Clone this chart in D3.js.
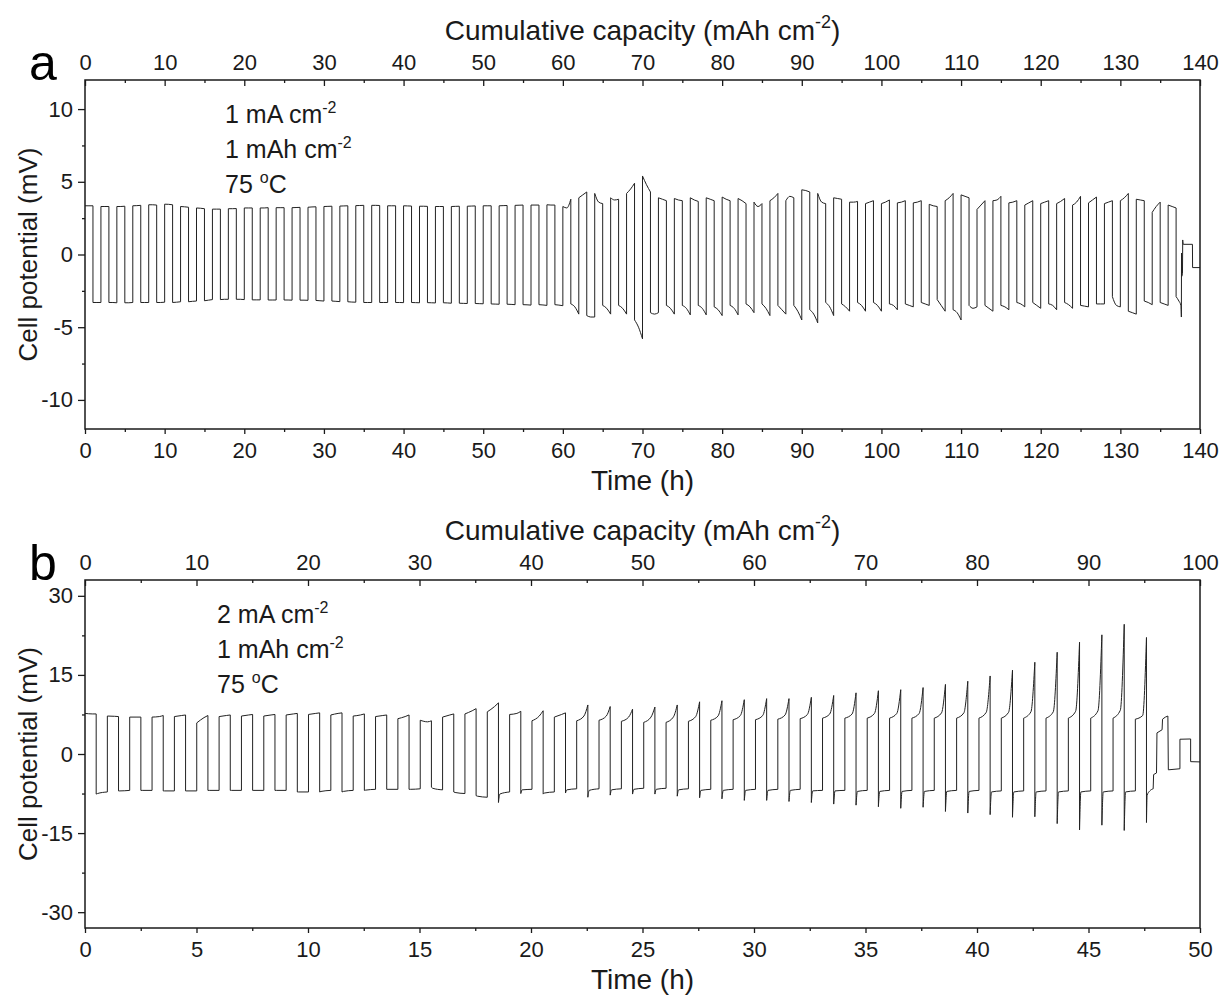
<!DOCTYPE html>
<html>
<head>
<meta charset="utf-8">
<script src="https://cdn.jsdelivr.net/npm/d3@7"></script>
<style>
  body { margin: 0; background: #fff; }
  svg { font-family: "Liberation Sans", Arial, sans-serif; }
</style>
</head>
<body>
<svg id="chart" width="1223" height="996"></svg>
<script>
// ---------- panel a: 1 mA cm-2, 1 mAh cm-2 (one cycle = 2 h, +1 h / -1 h) ----------
// per-cycle potentials (mV): start, middle and end of each half cycle
const aPosStart = [3.35,3.30,3.30,3.35,3.42,3.46,3.30,3.20,3.12,3.15,3.20,3.20,3.22,3.22,3.25,3.30,3.33,3.36,3.38,3.35,
  3.35,3.32,3.30,3.30,3.32,3.35,3.35,3.38,3.40,3.42,3.30,3.90,4.20,3.90,4.20,5.40,3.90,3.85,3.90,3.90,
  3.95,3.85,3.60,3.70,3.70,4.45,4.20,3.90,3.60,3.50,3.50,3.55,3.55,3.45,3.70,4.10,3.10,3.70,3.55,3.40,
  3.50,3.50,3.40,3.55,3.50,3.70,3.80,2.90];
const aPosMid = [3.35,3.30,3.30,3.36,3.42,3.45,3.28,3.18,3.12,3.15,3.20,3.20,3.22,3.23,3.27,3.31,3.34,3.37,3.38,3.35,
  3.34,3.32,3.30,3.31,3.33,3.35,3.36,3.39,3.40,3.40,3.20,4.10,3.60,3.75,4.50,4.80,3.80,3.75,3.75,3.80,
  3.80,3.70,3.30,3.90,4.00,4.40,3.60,3.85,3.60,3.60,3.60,3.60,3.60,3.35,3.90,4.00,3.40,3.75,3.60,3.55,
  3.60,3.65,3.60,3.75,3.60,3.90,3.75,3.30];
const aPosEnd = [3.35,3.30,3.32,3.38,3.40,3.42,3.25,3.15,3.12,3.16,3.20,3.22,3.22,3.24,3.28,3.32,3.35,3.38,3.37,3.35,
  3.33,3.31,3.30,3.32,3.34,3.35,3.37,3.40,3.40,3.40,3.80,4.30,3.50,3.80,4.90,4.30,3.70,3.70,3.65,3.70,
  3.70,3.50,3.50,4.20,3.90,4.30,3.50,3.80,3.65,3.70,3.75,3.70,3.70,3.30,4.20,3.90,3.70,4.00,3.70,3.70,
  3.70,3.85,4.00,3.95,3.70,4.20,3.70,3.60];
const aNegStart = [-3.30,-3.30,-3.32,-3.30,-3.30,-3.30,-3.25,-3.18,-3.10,-3.08,-3.12,-3.13,-3.13,-3.14,-3.16,-3.20,-3.25,-3.30,-3.30,-3.30,
  -3.30,-3.31,-3.32,-3.35,-3.37,-3.40,-3.42,-3.45,-3.45,-3.45,-3.40,-4.20,-3.50,-3.50,-4.50,-4.00,-3.50,-3.50,-3.50,-3.60,
  -3.50,-3.40,-3.40,-3.50,-3.50,-3.80,-3.30,-3.40,-3.30,-3.30,-3.40,-3.40,-3.30,-3.10,-3.80,-3.50,-3.50,-3.50,-3.30,-3.30,
  -3.40,-3.30,-3.50,-3.40,-2.90,-3.90,-3.20,-3.30];
const aNegMid = [-3.30,-3.30,-3.32,-3.30,-3.30,-3.28,-3.22,-3.14,-3.08,-3.08,-3.12,-3.13,-3.13,-3.14,-3.18,-3.22,-3.27,-3.30,-3.30,-3.30,
  -3.31,-3.32,-3.33,-3.36,-3.38,-3.41,-3.43,-3.46,-3.47,-3.48,-3.60,-4.30,-3.70,-3.70,-5.00,-4.10,-3.70,-3.70,-3.70,-3.80,
  -3.70,-3.60,-3.70,-3.80,-3.90,-4.10,-3.60,-3.60,-3.50,-3.50,-3.50,-3.50,-3.40,-3.50,-4.00,-3.70,-3.70,-3.60,-3.40,-3.50,
  -3.50,-3.45,-3.55,-3.40,-3.50,-4.00,-3.30,-3.40];
const aNegEnd = [-3.30,-3.32,-3.30,-3.30,-3.28,-3.25,-3.20,-3.10,-3.08,-3.10,-3.12,-3.13,-3.14,-3.15,-3.20,-3.24,-3.28,-3.30,-3.30,-3.31,
  -3.32,-3.33,-3.35,-3.37,-3.39,-3.42,-3.45,-3.48,-3.50,-3.52,-4.10,-4.30,-4.10,-4.10,-5.80,-4.00,-4.10,-4.15,-4.15,-4.20,
  -4.15,-4.00,-4.20,-4.10,-4.50,-4.70,-4.20,-3.90,-3.90,-3.90,-3.80,-3.60,-3.50,-3.90,-4.50,-3.60,-3.90,-3.80,-3.60,-3.70,
  -3.80,-3.70,-3.60,-3.40,-3.60,-4.10,-3.45,-3.50];
// irregular end of the trace (time h, potential mV), one list per continuous piece
const aTail = [
  [[136, 3.4], [136.5, 3.3], [137, 3.2]],
  [[137, -2.9], [137.35, -3.2], [137.6, -3.5], [137.66, -4.3]],
  [[137.68, 0.1], [137.69, -0.2]],
  [[137.71, -1.5], [137.8, -1.3]],
  [[137.83, 1.0], [137.9, 0.7], [139.05, 0.7]],
  [[139.07, -0.9], [140, -0.9]]
];

// ---------- panel b: 2 mA cm-2, 1 mAh cm-2 (one cycle ~1 h, +0.5 h / -0.5 h) ----------
const bPosStart = [7.7,7.2,7.0,7.0,7.1,5.9,7.1,7.2,7.2,7.4,7.5,7.4,7.2,7.1,6.7,6.4,7.0,7.6,8.0,7.5,
  6.3,7.0,6.3,6.4,6.2,6.0,6.0,6.2,6.4,6.5,6.5,6.6,6.7,6.8,6.8,6.8,6.8,6.8,6.8,6.8,
  6.8,6.8,6.8,6.8,6.8,6.8,6.8];
const bPosMid = [7.6,7.15,7.0,7.1,7.3,6.9,7.3,7.4,7.4,7.6,7.7,7.7,7.4,7.3,7.1,6.1,7.4,8.2,9.0,7.7,
  7.2,7.5,7.2,7.2,7.0,7.0,7.0,7.1,7.2,7.3,7.3,7.4,7.5,7.6,7.6,7.7,7.7,7.7,7.8,7.8,
  7.9,7.9,8.0,8.0,8.1,8.2,8.3];
const bPosEnd = [7.6,7.1,7.0,7.3,7.4,7.3,7.4,7.5,7.5,7.7,7.8,7.8,7.6,7.4,7.4,6.3,7.6,8.6,9.7,8.1,
  8.2,7.8,9.3,9.0,8.5,8.9,9.3,9.9,10.1,10.3,10.5,10.5,10.75,11.1,11.6,12.0,12.2,12.6,13.2,13.8,
  14.8,15.9,17.4,19.3,21.2,22.6,24.6];
const bNegStart = [-7.6,-7.0,-6.9,-7.0,-7.0,-6.9,-6.9,-6.9,-6.9,-7.2,-7.2,-7.2,-6.9,-6.7,-6.7,-6.3,-7.2,-7.9,-9.2,-7.5,
  -7.6,-7.4,-8.2,-7.8,-7.6,-7.6,-8.0,-8.3,-8.5,-8.8,-8.8,-9.0,-9.2,-9.5,-9.7,-10.0,-10.3,-10.1,-10.9,-11.2,
  -11.5,-12.0,-11.9,-13.2,-14.4,-13.5,-14.5];
const bNegMid = [-7.5,-7.0,-6.9,-7.0,-7.0,-6.9,-6.9,-6.9,-6.9,-7.2,-7.1,-7.1,-6.85,-6.7,-6.7,-6.5,-7.3,-8.0,-7.6,-6.8,
  -7.4,-6.8,-6.9,-6.8,-6.7,-6.7,-6.8,-6.9,-6.9,-6.9,-6.9,-6.9,-7.0,-7.0,-7.1,-7.1,-7.1,-7.1,-7.1,-7.1,
  -7.2,-7.2,-7.2,-7.2,-7.2,-7.2,-7.2];
const bNegEnd = [-7.2,-6.9,-6.9,-7.0,-7.0,-6.9,-6.9,-6.9,-6.9,-7.2,-6.9,-6.9,-6.7,-6.7,-6.6,-6.8,-7.5,-8.2,-7.2,-6.7,
  -7.2,-6.6,-6.6,-6.6,-6.5,-6.5,-6.6,-6.7,-6.7,-6.7,-6.7,-6.7,-6.9,-6.9,-6.9,-6.9,-6.9,-6.9,-6.9,-6.9,
  -7.0,-7.0,-7.0,-7.0,-7.0,-7.0,-7.0];
const bTail = [
  [[47.1, 6.6], [47.43, 7.3], [47.6, 22.1]],
  [[47.6, -13.0], [47.63, -7.8], [47.75, -7.0], [47.9, -6.6]],
  [[47.92, -3.9], [48.05, -3.6]],
  [[48.07, 4.0], [48.3, 4.6]],
  [[48.32, 6.6], [48.45, 7.0], [48.56, 7.2]],
  [[48.58, -3.0], [49.1, -2.8]],
  [[49.1, 2.8], [49.58, 2.85]],
  [[49.58, -1.45], [50, -1.5]]
];

// ---------- axis ticks ----------
const aTimeTicks = d3.range(0, 141, 10);
const aCapTicks = d3.range(0, 141, 10);
const aYTicks = [-10, -5, 0, 5, 10];
const bTimeTicks = d3.range(0, 51, 5);
const bCapTicks = d3.range(0, 101, 10);
const bYTicks = [-30, -15, 0, 15, 30];

const svg = d3.select("#chart");
const left = 85, right = 1200;
const ink = "#1a1a1a";

function buildSegments(c, period, posFrac, negFrac) {
  const half = period / 2;
  const segs = [];
  c.ps.forEach((_, k) => {
    const t0 = k * period;
    segs.push([[t0, c.ps[k]], [t0 + posFrac * half, c.pm[k]], [t0 + half, c.pe[k]]]);
    segs.push([[t0 + half, c.ns[k]], [t0 + half + negFrac * half, c.nm[k]], [t0 + period, c.ne[k]]]);
  });
  return segs.concat(c.tail);
}

function drawPanel(p) {
  const g = svg.append("g");
  const x = d3.scaleLinear().domain([0, p.tMax]).range([left, right]);
  const xTop = d3.scaleLinear().domain([0, p.capMax]).range([left, right]);
  const y = d3.scaleLinear().domain(p.yDomain).range([p.bottom, p.top]);

  // trace
  const clipId = "clip-" + p.letter;
  g.append("clipPath").attr("id", clipId)
    .append("rect").attr("x", left).attr("y", p.top)
    .attr("width", right - left).attr("height", p.bottom - p.top);
  const line = d3.line().x(d => x(d[0])).y(d => y(d[1])).curve(d3.curveMonotoneX);
  const d = p.segments.map((s, i) => {
    const path = line(s);
    return i ? path.replace(/^M/, "L") : path;
  }).join("");
  g.append("path")
    .attr("clip-path", `url(#${clipId})`)
    .attr("d", d)
    .attr("fill", "none")
    .attr("stroke", "#222")
    .attr("stroke-width", 1)
    .attr("stroke-linejoin", "round");

  // axes
  const fmt = v => String(v);
  const styleAxis = sel => {
    sel.select(".domain").remove();
    sel.selectAll(".tick line").attr("stroke", ink).attr("stroke-width", 1.3);
    sel.selectAll(".tick text").attr("fill", ink).attr("font-size", 22)
      .attr("font-family", "Liberation Sans, Arial, sans-serif");
  };
  const minor = (ticks) => ticks.slice(0, -1).map((v, i) => (v + ticks[i + 1]) / 2);

  g.append("g").attr("transform", `translate(0,${p.bottom})`)
    .call(d3.axisBottom(x).tickValues(p.timeTicks).tickFormat(fmt).tickSize(5).tickPadding(8))
    .call(styleAxis);
  g.append("g").attr("transform", `translate(0,${p.bottom})`)
    .call(d3.axisBottom(x).tickValues(minor(p.timeTicks)).tickFormat("").tickSize(3))
    .call(styleAxis);

  g.append("g").attr("transform", `translate(0,${p.top})`)
    .call(d3.axisTop(xTop).tickValues(p.capTicks).tickFormat(fmt).tickSizeInner(-6).tickSizeOuter(0).tickPadding(10))
    .call(styleAxis);
  g.append("g").attr("transform", `translate(0,${p.top})`)
    .call(d3.axisTop(xTop).tickValues(minor(p.capTicks)).tickFormat("").tickSizeInner(-3).tickSizeOuter(0))
    .call(styleAxis);

  g.append("g").attr("transform", `translate(${left},0)`)
    .call(d3.axisLeft(y).tickValues(p.yTicks).tickFormat(fmt).tickSize(7).tickPadding(5))
    .call(styleAxis);
  g.append("g").attr("transform", `translate(${left},0)`)
    .call(d3.axisLeft(y).tickValues(minor(p.yTicks)).tickFormat("").tickSize(3))
    .call(styleAxis);

  // frame
  g.append("rect")
    .attr("x", left).attr("y", p.top)
    .attr("width", right - left).attr("height", p.bottom - p.top)
    .attr("fill", "none").attr("stroke", ink).attr("stroke-width", 1.5);

  // titles
  const cx = (left + right) / 2;
  const capTitle = g.append("text").attr("x", cx).attr("y", p.top - 40)
    .attr("text-anchor", "middle").attr("font-size", 28).attr("fill", ink);
  capTitle.append("tspan").text("Cumulative capacity (mAh cm");
  capTitle.append("tspan").attr("font-size", 18).attr("dy", -12).text("-2");
  capTitle.append("tspan").attr("dy", 12).text(")");

  g.append("text").attr("x", cx).attr("y", p.bottom + 61)
    .attr("text-anchor", "middle").attr("font-size", 28).attr("fill", ink)
    .text("Time (h)");

  g.append("text")
    .attr("transform", `translate(37,${(p.top + p.bottom) / 2}) rotate(-90)`)
    .attr("text-anchor", "middle").attr("font-size", 26).attr("fill", ink)
    .text("Cell potential (mV)");

  g.append("text").attr("x", 29).attr("y", p.top)
    .attr("font-size", 50).attr("fill", "#000").text(p.letter);

  // conditions
  p.notes.forEach((n, i) => {
    const t = g.append("text").attr("x", p.noteX).attr("y", p.top + 43 + i * 35)
      .attr("font-size", 25).attr("fill", ink);
    t.append("tspan").text(n[0]);
    t.append("tspan").attr("font-size", 16).attr("dy", -10).text(n[1]);
    if (n[2]) t.append("tspan").attr("dy", 10).text(n[2]);
  });
}

drawPanel({
  letter: "a", top: 80, bottom: 429, tMax: 140, capMax: 140, yDomain: [-12, 12],
  timeTicks: aTimeTicks, capTicks: aCapTicks, yTicks: aYTicks, noteX: 225,
  notes: [["1 mA cm", "-2"], ["1 mAh cm", "-2"], ["75 ", "o", "C"]],
  segments: buildSegments({ ps: aPosStart, pm: aPosMid, pe: aPosEnd,
    ns: aNegStart, nm: aNegMid, ne: aNegEnd, tail: aTail }, 2, 0.5, 0.5)
});

drawPanel({
  letter: "b", top: 580, bottom: 928, tMax: 50, capMax: 100, yDomain: [-33, 33],
  timeTicks: bTimeTicks, capTicks: bCapTicks, yTicks: bYTicks, noteX: 217,
  notes: [["2 mA cm", "-2"], ["1 mAh cm", "-2"], ["75 ", "o", "C"]],
  segments: buildSegments({ ps: bPosStart, pm: bPosMid, pe: bPosEnd,
    ns: bNegStart, nm: bNegMid, ne: bNegEnd, tail: bTail }, 1.0022, 0.65, 0.12)
});
</script>
</body>
</html>
